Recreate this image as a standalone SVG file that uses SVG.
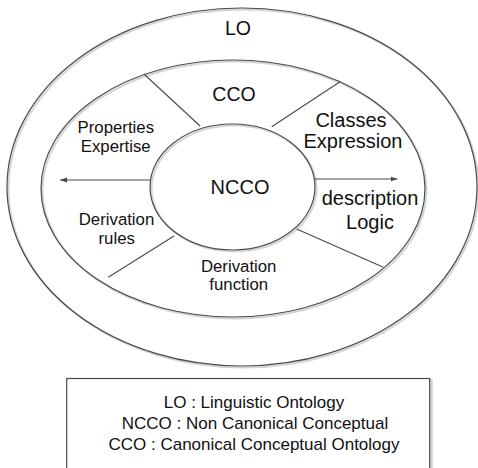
<svg xmlns="http://www.w3.org/2000/svg" width="478" height="468" viewBox="0 0 478 468">
  <style>
    .ring { fill: none; stroke: #4a4a4a; stroke-width: 1.2; }
    .shadow { fill: none; stroke: #d4d4d4; stroke-width: 2; }
    .conn { stroke: #4a4a4a; stroke-width: 1.1; fill: none; }
    text { font-family: "Liberation Sans", Arial, sans-serif; fill: #111; text-anchor: middle; }
    .big { font-size: 19.5px; }
    .mid { font-size: 16.8px; }
    .leg { font-size: 17px; }
  </style>
  <defs>
    <marker id="ah" markerWidth="8" markerHeight="6" refX="7" refY="3" orient="auto" markerUnits="userSpaceOnUse">
      <path d="M0,0.5 L7,3 L0,5.5 Z" fill="#4a4a4a"/>
    </marker>
  </defs>
  <rect width="478" height="468" fill="#ffffff"/>

  <g id="LO">
    <ellipse class="shadow" cx="243.5" cy="188.5" rx="235" ry="179"/>
    <ellipse class="ring" cx="242" cy="187" rx="235" ry="179" fill="#ffffff"/>
    <text class="big" x="238" y="35">LO</text>
  </g>

  <g id="CCO">
    <ellipse class="shadow" cx="234.5" cy="190" rx="192" ry="128.5"/>
    <ellipse class="ring" cx="233" cy="188.5" rx="192" ry="128.5"/>
    <text class="big" x="234" y="100.5">CCO</text>
  </g>

  <g id="NCCO">
    <ellipse class="shadow" cx="234" cy="188.5" rx="82.5" ry="63"/>
    <ellipse class="ring" cx="232.5" cy="187" rx="82.5" ry="63"/>
    <text style="font-size:20px" x="240" y="193.5">NCCO</text>
  </g>

  <g id="connectors">
    <line class="conn" x1="144" y1="74" x2="200" y2="126"/>
    <line class="conn" x1="340" y1="81.7" x2="271.7" y2="126.7"/>
    <line class="conn" x1="108.3" y1="277.3" x2="174" y2="236"/>
    <line class="conn" x1="296.7" y1="229" x2="383.3" y2="267.3"/>
    <line class="conn" x1="150" y1="180" x2="60" y2="180" marker-end="url(#ah)"/>
    <line class="conn" x1="315" y1="179" x2="397.5" y2="179" marker-end="url(#ah)"/>
  </g>

  <g id="classes-expression">
    <text style="font-size:20px" x="351" y="127.3">Classes</text>
    <text style="font-size:20px" x="353" y="148.3">Expression</text>
  </g>

  <g id="properties-expertise">
    <text class="mid" x="115.8" y="133.3">Properties</text>
    <text class="mid" x="115.7" y="151.7">Expertise</text>
  </g>

  <g id="description-logic">
    <text style="font-size:20px" x="370" y="205">description</text>
    <text style="font-size:20px" x="370" y="228.5">Logic</text>
  </g>

  <g id="derivation-rules">
    <text class="mid" x="116.5" y="225">Derivation</text>
    <text class="mid" x="116.7" y="244">rules</text>
  </g>

  <g id="derivation-function">
    <text class="mid" x="238.7" y="271.5">Derivation</text>
    <text class="mid" x="238.7" y="290">function</text>
  </g>

  <g id="legend">
    <rect x="68.5" y="380.5" width="363" height="90" fill="none" stroke="#d4d4d4" stroke-width="2.5"/>
    <rect x="66.7" y="378.5" width="363" height="92" fill="#ffffff" stroke="#4a4a4a" stroke-width="1.2"/>
    <text class="leg" x="254" y="408.3">LO : Linguistic Ontology</text>
    <text class="leg" x="255" y="429.3">NCCO : Non Canonical Conceptual</text>
    <text class="leg" x="254" y="450">CCO : Canonical Conceptual Ontology</text>
  </g>
</svg>
